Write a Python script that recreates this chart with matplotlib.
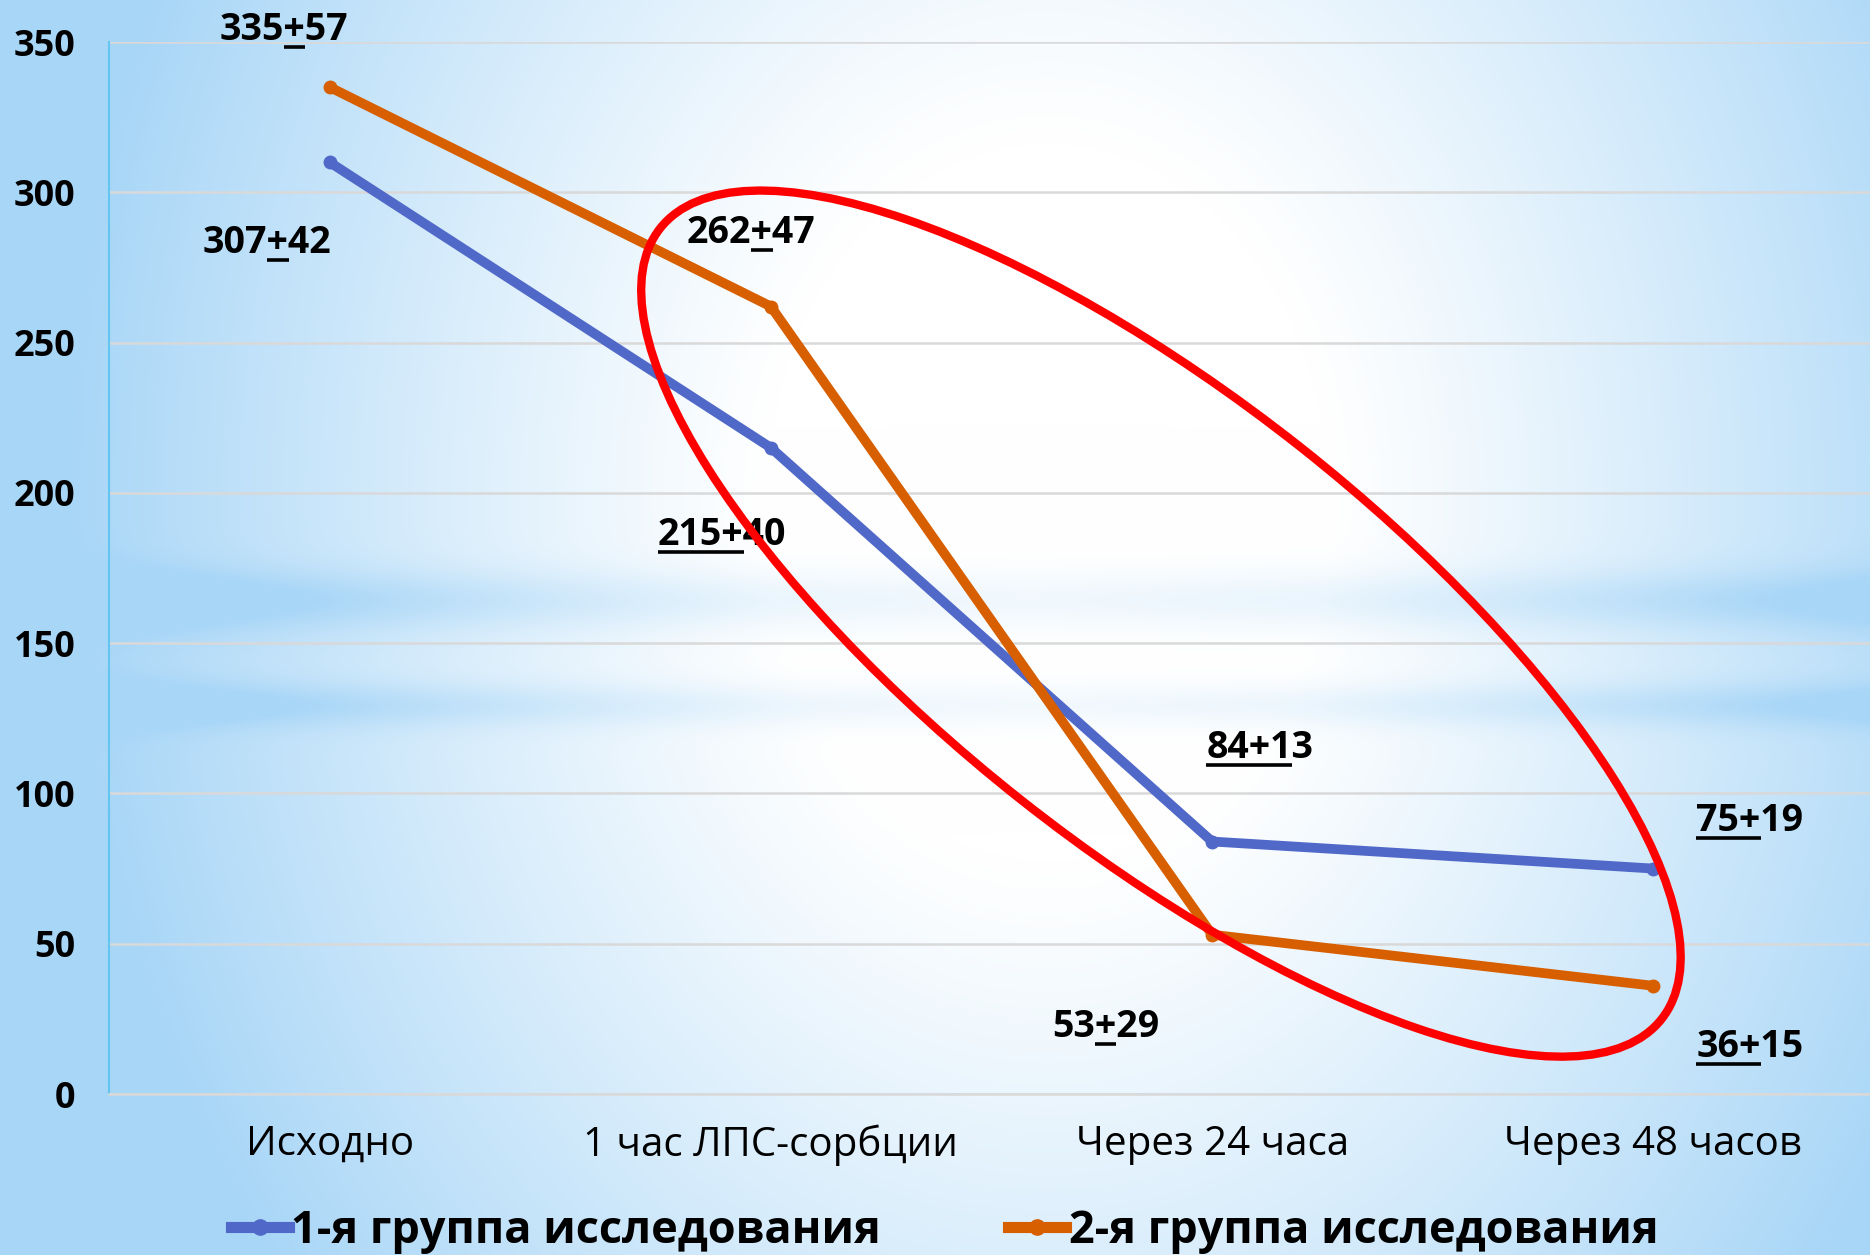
import numpy as np
import matplotlib
matplotlib.use("Agg")
import matplotlib.pyplot as plt
from matplotlib.patches import Ellipse
from matplotlib.lines import Line2D
from matplotlib.transforms import IdentityTransform
from matplotlib.font_manager import FontProperties

categories = ["Исходно", "1 час ЛПС-сорбции", "Через 24 часа", "Через 48 часов"]
group1 = [310, 215, 84, 75]
group2 = [335, 262, 53, 36]
labels1 = ["307+42", "215+40", "84+13", "75+19"]
labels2 = ["335+57", "262+47", "53+29", "36+15"]
names = ["1-я группа исследования", "2-я группа исследования"]

# which characters of each label are underlined
under1 = [(3, 4), (0, 4), (0, 4), (0, 3)]
under2 = [(3, 4), (3, 4), (2, 3), (0, 3)]
# label offsets from the point, in pixels (x right, y up)
off1 = [(-127, -91), (-113, -97), (-6, 84), (43, 38)]
off2 = [(-110, 47), (-84, 64), (-160, -102), (43, -71)]

BLUE = "#5068C8"
ORANGE = "#D85F00"
FONT = "Open Sans"

W, H = 1870, 1255
fig = plt.figure(figsize=(W / 100, H / 100), dpi=100)

# background: light blue edges, white centre, soft horizontal bands
yy, xx = np.mgrid[0:H, 0:W].astype(float)
d = np.sqrt(((xx - 0.56 * W) / (0.5 * W)) ** 2 + ((yy - 0.40 * H) / (0.95 * H)) ** 2)
t = np.clip((d - 0.3) / 0.75, 0, 1) ** 1.1
side = 0.35 + 0.65 * np.abs(xx - 0.55 * W) / (0.55 * W)
band = (0.45 * np.exp(-((yy - 600) / 30) ** 2) + 0.4 * np.exp(-((yy - 705) / 22) ** 2)) * side
t = np.clip(t + band, 0, 1)
edge = np.array([168, 214, 247]) / 255.0
img = (1 - t)[..., None] * np.ones(3) + t[..., None] * edge
bg = fig.add_axes([0, 0, 1, 1], zorder=-1)
bg.imshow(img, aspect="auto", interpolation="bilinear")
bg.axis("off")

# plot area runs slightly past the right edge, as in the original slide
ax = fig.add_axes([109 / W, (H - 1094) / H, 1765 / W, (1094 - 42) / H])
ax.set_facecolor("none")

x = np.arange(len(categories))
ax.plot(x, group1, color=BLUE, lw=7, marker="o", ms=9, solid_capstyle="round", zorder=3)
ax.plot(x, group2, color=ORANGE, lw=7, marker="o", ms=9, solid_capstyle="round", zorder=4)

ax.set_xlim(-0.5, 3.5)
ax.set_ylim(0, 350)
ax.set_yticks(range(0, 351, 50))
ax.set_xticks(x)
ax.set_xticklabels(categories, fontsize=29, family=FONT)
for lab in ax.get_yticklabels():
    lab.set_fontsize(26)
    lab.set_fontweight("bold")
    lab.set_family(FONT)
ax.tick_params(axis="y", length=0, pad=24)
ax.tick_params(axis="x", length=0, pad=22)
ax.yaxis.grid(True, color="#D9D9D9", lw=1.8)
ax.set_axisbelow(True)
for s in ["top", "right"]:
    ax.spines[s].set_visible(False)
ax.spines["left"].set_color("#63C6F0")
ax.spines["left"].set_linewidth(1.5)
ax.spines["bottom"].set_color("#D9D9D9")
ax.spines["bottom"].set_linewidth(1.8)

# data labels with partial underline
fp = FontProperties(family=FONT, weight="bold", size=27)
renderer = fig.canvas.get_renderer()


def label(i, val, txt, off, span):
    ax.annotate(txt, (i, val), xytext=off, textcoords="offset pixels",
                ha="left", va="baseline", fontproperties=fp, color="black",
                annotation_clip=False, zorder=5)
    px, py = ax.transData.transform((i, val))
    px += off[0]
    py += off[1]
    w0 = renderer.get_text_width_height_descent(txt[:span[0]], fp, ismath=False)[0] if span[0] else 0
    w1 = renderer.get_text_width_height_descent(txt[:span[1]], fp, ismath=False)[0]
    fig.add_artist(Line2D([px + w0, px + w1], [py - 7, py - 7], color="black",
                          lw=2.6, solid_capstyle="butt", transform=IdentityTransform()))


for i in range(4):
    label(i, group1[i], labels1[i], off1[i], under1[i])
    label(i, group2[i], labels2[i], off2[i], under2[i])

# red ellipse highlighting the post-sorption points
cx, cy = ax.transData.transform((1.884, 156.5))
ell = Ellipse((cx, cy), width=2 * 638, height=2 * 225, angle=-38.3, fill=False,
              edgecolor="#FF0000", lw=6, transform=IdentityTransform(), zorder=6)
fig.add_artist(ell)

handles = [Line2D([], [], color=BLUE, lw=8, marker="o", ms=11),
           Line2D([], [], color=ORANGE, lw=8, marker="o", ms=11)]
fig.legend(handles, names, loc="center", bbox_to_anchor=(0.505, 0.019), ncol=2,
           frameon=False, prop=FontProperties(family=FONT, weight="bold", size=32.5),
           handlelength=1.3, handletextpad=0.05, columnspacing=2.8)

fig.savefig("out.png", dpi=100)
